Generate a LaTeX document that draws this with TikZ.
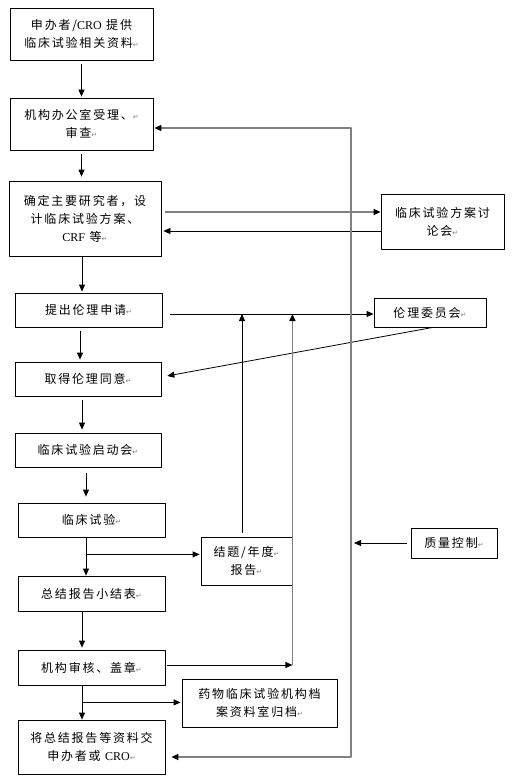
\documentclass[tikz,border=0pt]{standalone}
\usepackage{fontspec}
\setmainfont{Liberation Serif}
\newfontfamily\cjk[LetterSpace=15]{Noto Sans CJK SC}
\newfontfamily\symf{DejaVu Sans}
\usetikzlibrary{arrows.meta,calc}
\newcommand\retmark{{\symf\fontsize{7}{8}\selectfont\textcolor{gray}{↵}}}
\newcommand\lat[1]{{\rmfamily #1}}
\tikzset{
	box/.style={draw, line width=0.8pt, align=center, inner sep=1pt,
		font=\cjk\fontsize{12}{18}\selectfont},
	gline/.style={draw=black!50, line width=1.6pt}
}
\begin{document}
\begin{tikzpicture}[x=1pt, y=-1pt, line width=0.8pt, line join=round,
	>={Triangle[length=7pt,width=6pt,color=black]}]
	\useasboundingbox (0,0) rectangle (512,781);
	% main column
	\node[box, minimum width=143pt, minimum height=52pt] (sub) at (81.5,34) {申办者/\lat{CRO} 提供\\临床试验相关资料\retmark};
	\node[box, minimum width=143pt, minimum height=52pt] (off) at (81.5,124) {机构办公室受理、\retmark\\审查\retmark};
	\node[box, minimum width=152pt, minimum height=75pt] (des) at (85,218.5) {确定主要研究者，设\\计临床试验方案、\\\lat{CRF} 等\retmark};
	\node[box, minimum width=147pt, minimum height=34pt] (app) at (88.5,310) {提出伦理申请\retmark};
	\node[box, minimum width=146pt, minimum height=34pt] (agr) at (88,379) {取得伦理同意\retmark};
	\node[box, minimum width=146pt, minimum height=34pt] (kick) at (88,450) {临床试验启动会\retmark};
	\node[box, minimum width=147pt, minimum height=34pt] (trial) at (91.5,520) {临床试验\retmark};
	\node[box, minimum width=147pt, minimum height=35pt] (sum) at (91.5,593.5) {总结报告小结表\retmark};
	\node[box, minimum width=147pt, minimum height=35pt] (aud) at (91.5,667.5) {机构审核、盖章\retmark};
	\node[box, minimum width=147pt, minimum height=54pt] (send) at (91.5,747) {将总结报告等资料交\\申办者或 \lat{CRO}\retmark};
	% side boxes
	\node[box, minimum width=123pt, minimum height=55pt] (disc) at (442.5,221.5) {临床试验方案讨\\论会\retmark};
	\node[box, minimum width=112pt, minimum height=29pt] (irb) at (430,312.5) {伦理委员会\retmark};
	\node[box, minimum width=91pt, minimum height=48pt] (rep) at (246.5,561) {结题/年度\retmark\\报告\retmark};
	\node[box, minimum width=155pt, minimum height=48pt] (arch) at (259.5,703) {药物临床试验机构档\\案资料室归档\retmark};
	\node[box, minimum width=86pt, minimum height=30pt] (qc) at (454,543) {质量控制\retmark};
	% helper points
	\coordinate (m) at ([yshift=-1.5pt]irb.west);
	\coordinate (rup) at ([xshift=-4.5pt]rep.north);
	\coordinate (audr) at ([yshift=2.5pt]aud.east);
	\coordinate (kk) at (rep.east |- audr);
	\coordinate (ts) at ([xshift=-5.5pt]trial.south);
	\coordinate (tb) at ($(ts)+(0,17)$);
	\coordinate (as) at ([xshift=-9.5pt]aud.south);
	\coordinate (ab) at ($(as)+(0,17)$);
	\coordinate (sr) at ([yshift=-10pt]send.east);
	\coordinate (or) at ([yshift=-4pt]off.east);
	\coordinate (lp) at (351,0);
	% down the column
	\draw[->, shorten <=4pt, shorten >=1pt] (sub.south) -- (off.north);
	\draw[->, shorten <=4pt, shorten >=4pt] (off.south) -- (off.south |- des.north);
	\draw[->, shorten >=1pt] ([xshift=-3pt]des.south) -- ([xshift=-3pt]des.south |- app.north);
	\draw[->, shorten <=4pt, shorten >=2pt] ([xshift=-8.5pt]app.south) -- ([xshift=-8.5pt]app.south |- agr.north);
	\draw[->, shorten <=4pt, shorten >=3pt] ([xshift=-6pt]agr.south) -- ([xshift=-6pt]agr.south |- kick.north);
	\draw[->, shorten <=6pt, shorten >=6pt] ([xshift=-2pt]kick.south) -- ([xshift=-2pt]kick.south |- trial.north);
	\draw[->] (ts) -- (ts |- sum.north);
	\draw[->, shorten >=1pt] (tb) -- (tb -| rep.west);
	\draw[->, shorten >=2pt] ([xshift=-9.5pt]sum.south) -- ([xshift=-9.5pt]sum.south |- aud.north);
	\draw[->] (as) -- (as |- send.north);
	\draw[->, shorten >=1pt] (ab) -- (ab -| arch.west);
	% design discussion
	\draw[gline, ->, shorten <=4pt] ([yshift=6.5pt]des.east) -- ([yshift=6.5pt]des.east -| disc.west);
	\draw[->, shorten >=2pt] ([yshift=-9.5pt]disc.west) -- ([yshift=-9.5pt]disc.west -| des.east);
	% ethics
	\draw[->] ($(app.east |- m)+(8,0)$) -- (m);
	\draw[->, shorten >=6pt] ([xshift=3pt]irb.south) -- ([yshift=2pt]agr.east);
	\draw[->, shorten <=4pt] (rup) -- (rup |- m);
	\draw[->, shorten <=2pt] (audr) -- (kk);
	\draw[gline, ->] (kk) -- (kk |- m);
	% quality control loop
	\draw[gline, <->] ([xshift=6pt]sr) -- (lp |- sr) -- (lp |- or) -- ([xshift=1pt]or);
	\draw[->, shorten <=4pt, shorten >=3pt] (qc.west) -- (lp |- qc);
\end{tikzpicture}
\end{document}
